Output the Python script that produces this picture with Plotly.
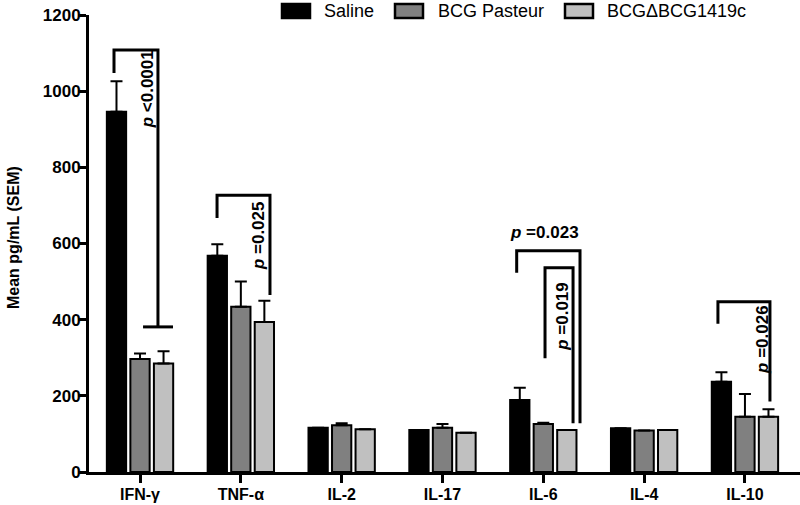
import plotly.graph_objects as go

categories = ["IFN-γ", "TNF-α", "IL-2", "IL-17", "IL-6", "IL-4", "IL-10"]
series_names = ["Saline", "BCG Pasteur", "BCGΔBCG1419c"]
saline = [946, 568, 116, 110, 189, 115, 237]
saline_err = [80, 30, 0, 0, 32, 0, 25]
pasteur = [297, 434, 123, 116, 126, 109, 145]
pasteur_err = [14, 66, 5, 10, 3, 0, 60]
mutant = [285, 394, 112, 103, 110, 110, 145]
mutant_err = [32, 56, 0, 0, 0, 0, 20]
colors = ["#000000", "#808080", "#c0c0c0"]

# brackets: x_left, x_right, y_left_end, y_top, y_right_end
brackets = [
    (-0.258, 0.178, 1048, 1108, 381),
    (0.764, 1.289, 667, 727, 465),
    (3.736, 4.364, 523, 581, 128),
    (4.017, 4.295, 299, 536, 128),
    (5.732, 6.248, 389, 447, 185),
]
# extra horizontal foot on IFN-γ bracket: x0, x1, y
foot = (0.03, 0.327, 381)

p_labels = ["p <0.0001", "p =0.025", "p =0.023", "p =0.019", "p =0.026"]
p_x = [0.07, 1.17, 4.007, 4.195, 6.18]
p_y = [1005, 622, 630, 410, 347]
p_angle = [-90, -90, 0, -90, -90]

FONT = "Liberation Sans, Arial, sans-serif"

fig = go.Figure()
vals = [saline, pasteur, mutant]
errs = [saline_err, pasteur_err, mutant_err]
for name, v, e, c in zip(series_names, vals, errs, colors):
    fig.add_trace(go.Bar(
        x=list(range(len(categories))), y=v, name=name,
        marker=dict(color=c, line=dict(color="black", width=2)),
        error_y=dict(type="data", array=e, arrayminus=[0] * len(e), symmetric=False,
                     color="black", thickness=2, width=6),
        showlegend=False, hoverinfo="skip",
    ))

shapes = []
for xl, xr, yl, yt, yr in brackets:
    shapes.append(dict(type="path", xref="x", yref="y",
                       path=f"M {xl},{yl} L {xl},{yt} L {xr},{yt} L {xr},{yr}",
                       line=dict(color="black", width=3)))
shapes.append(dict(type="line", xref="x", yref="y", x0=foot[0], x1=foot[1], y0=foot[2], y1=foot[2],
                   line=dict(color="black", width=3)))

annotations = []
for t, x, y, a in zip(p_labels, p_x, p_y, p_angle):
    p, rest = t.split(" ", 1)
    annotations.append(dict(x=x, y=y, xref="x", yref="y", text=f"<b><i>{p}</i> {rest}</b>",
                            textangle=a, showarrow=False,
                            font=dict(family=FONT, size=17, color="black")))

# manual legend (pixel layout converted to paper coords)
L, T, W, H = 89, 15, 711, 457
def px2x(px):
    return (px - L) / W
def py2y(py):
    return (T + H - py) / H
sw_left = [282, 395, 565]
txt_left = [322, 436, 605]
for name, c, sl, tl in zip(series_names, colors, sw_left, txt_left):
    shapes.append(dict(type="rect", xref="paper", yref="paper",
                       x0=px2x(sl), x1=px2x(sl + 28), y0=py2y(18), y1=py2y(4),
                       fillcolor=c, line=dict(color="black", width=2.5)))
    annotations.append(dict(x=px2x(tl), y=py2y(11), xref="paper", yref="paper",
                            xanchor="left", yanchor="middle", text=name, showarrow=False,
                            font=dict(family=FONT, size=18, color="black")))

# y-axis title
annotations.append(dict(x=px2x(14), y=py2y(238), xref="paper", yref="paper",
                        text="<b>Mean pg/mL (SEM)</b>", textangle=-90, showarrow=False,
                        xanchor="center", yanchor="middle",
                        font=dict(family=FONT, size=16, color="black")))

fig.update_layout(
    width=800, height=505,
    margin=dict(l=L, r=800 - L - W, t=T, b=505 - T - H, autoexpand=False),
    paper_bgcolor="white", plot_bgcolor="white",
    barmode="group", bargap=0.3, bargroupgap=0.18,
    shapes=shapes, annotations=annotations,
    font=dict(family=FONT, color="black"),
    hovermode=False,
)
fig.update_xaxes(
    range=[-0.506, 6.546], tickmode="array", tickvals=list(range(len(categories))),
    ticktext=categories, showline=True, linecolor="black", linewidth=3,
    ticks="outside", ticklen=8, tickwidth=3, tickcolor="black",
    showgrid=False, zeroline=False, automargin=False, ticklabelstandoff=-2,
    tickfont=dict(family=FONT, size=16, color="black", weight="bold"),
)
fig.update_yaxes(
    range=[0, 1200], dtick=200, showline=True, linecolor="black", linewidth=3,
    ticks="outside", ticklen=8, tickwidth=3, tickcolor="black",
    showgrid=False, zeroline=False, automargin=False, ticklabelstandoff=-6,
    tickfont=dict(family=FONT, size=17, color="black", weight="bold"),
)

fig.write_html("out.html", config={"displayModeBar": False},
               post_script="document.body.style.margin='0';document.body.style.overflow='hidden';")
